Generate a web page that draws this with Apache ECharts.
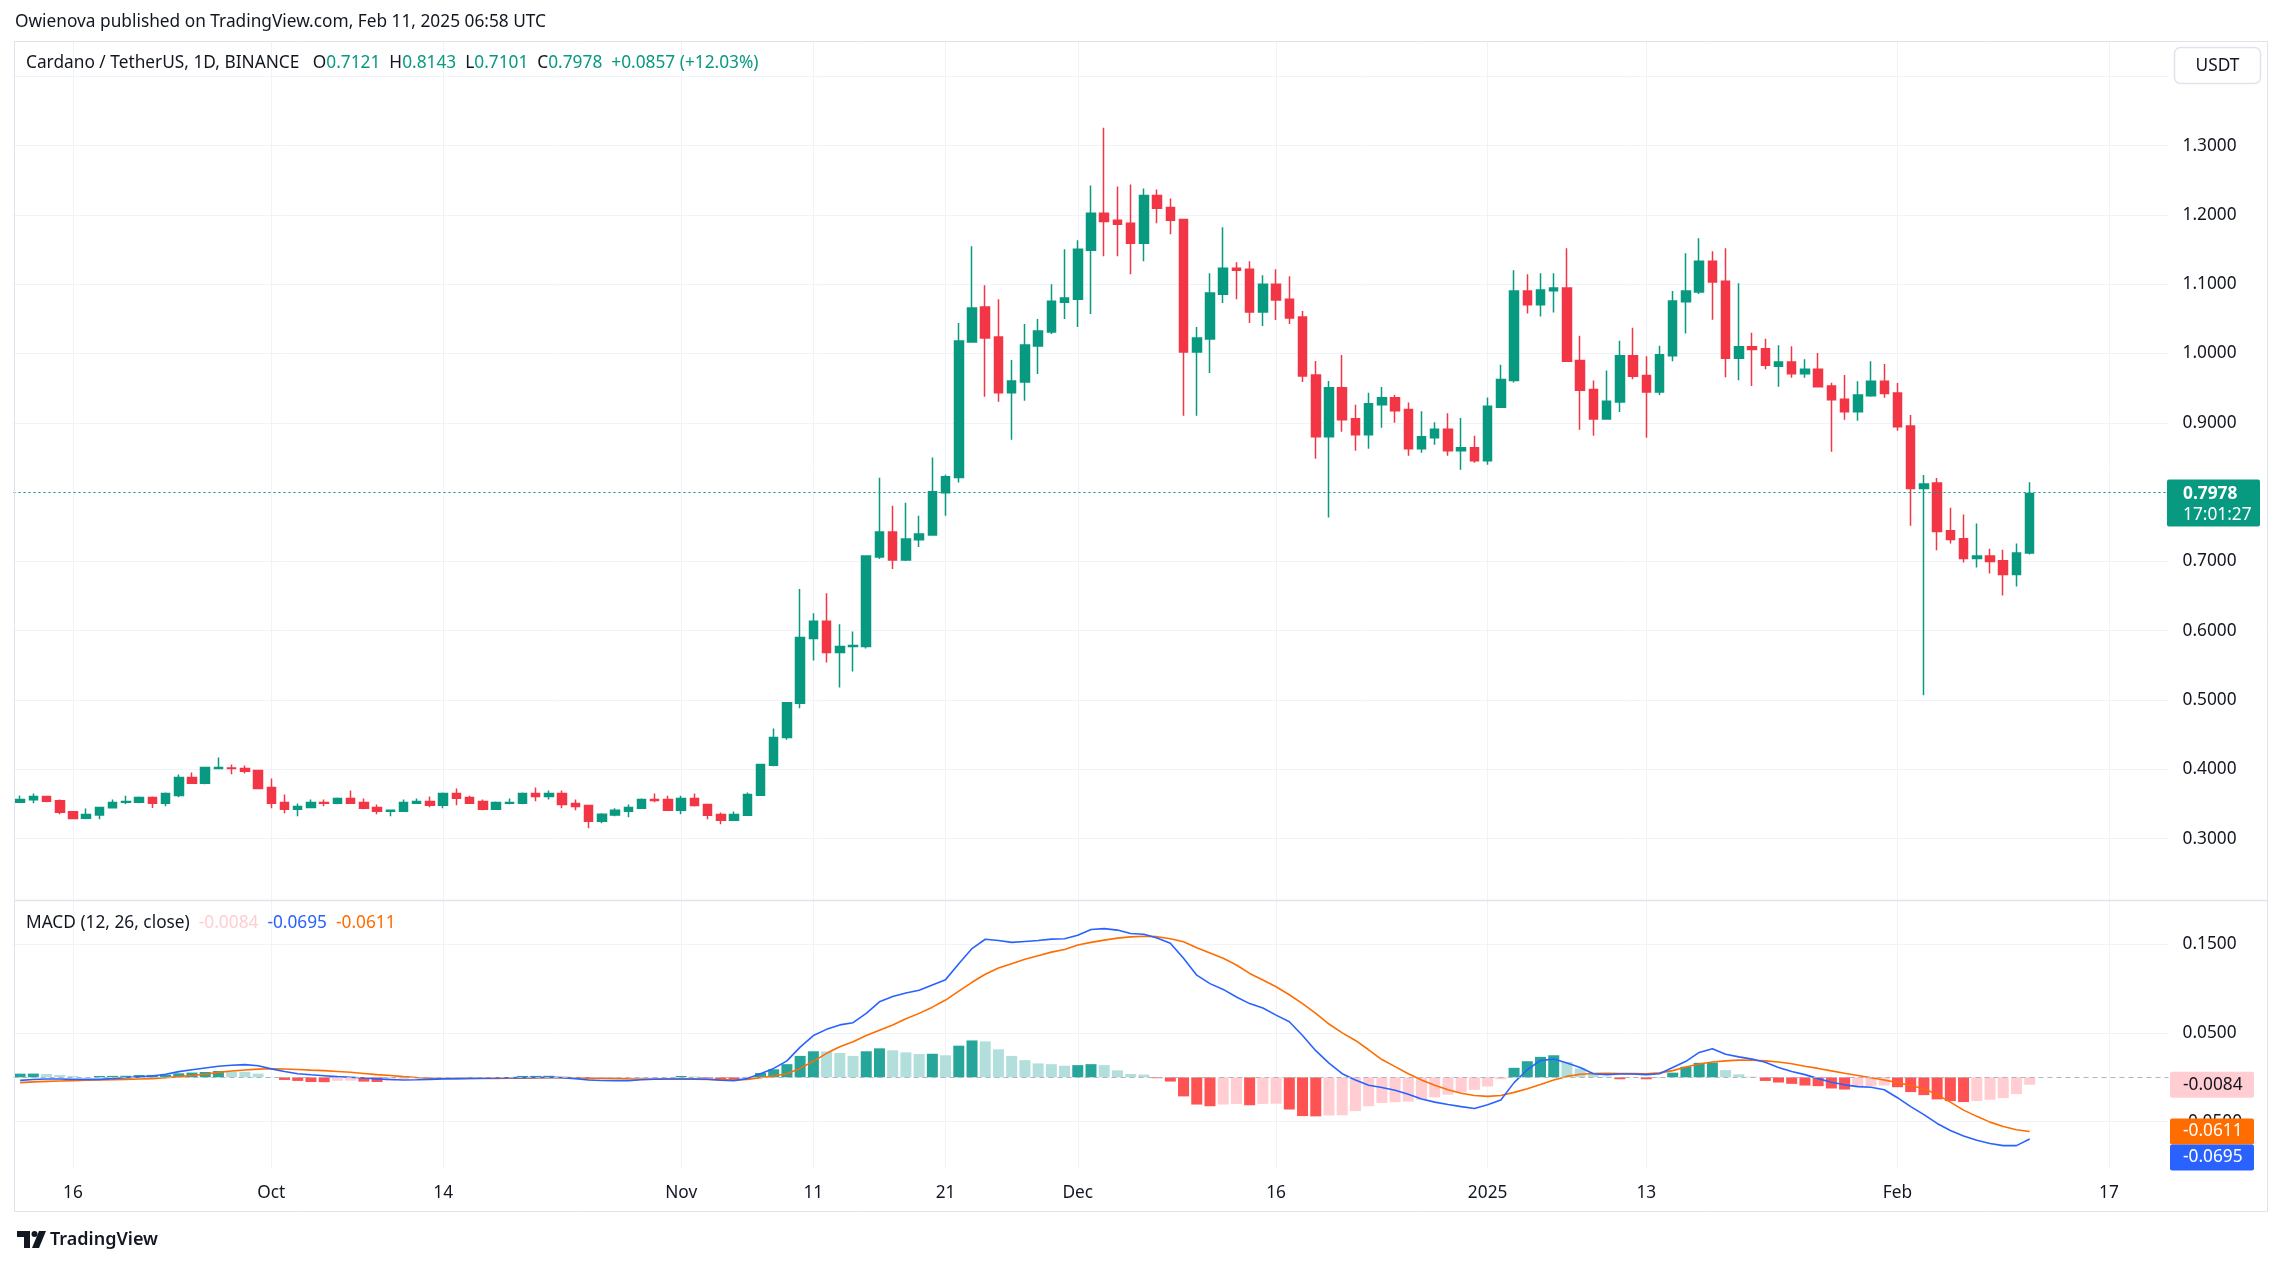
<!DOCTYPE html>
<html><head><meta charset="utf-8">
<script src="https://cdn.jsdelivr.net/npm/echarts@6.0.0/dist/echarts.min.js"></script>
<style>html,body{margin:0;padding:0;background:#fff;overflow:hidden}#c{width:2283px;height:1265px}</style>
</head><body><div id="c"></div>
<script>
// ---- DATA (ADA/USDT daily, 2024-09-12 .. 2025-02-11) ----
const startDate = '2024-09-12';
const opens = [
0.3525,0.3560,0.3607,0.3545,0.3386,0.3295,0.3340,0.3445,0.3525,0.3525,
0.3593,0.3510,0.3622,0.3880,0.3800,0.4012,0.4020,0.4010,0.3983,
0.3737,0.3520,0.3424,0.3448,0.3520,0.3510,0.3578,0.3520,0.3448,0.3395,
0.3395,0.3510,0.3535,0.3482,0.3650,0.3593,0.3535,0.3424,0.3510,0.3510,
0.3650,0.3607,0.3650,0.3506,0.3477,0.3250,0.3340,0.3395,0.3438,0.3564,0.3564,
0.3410,0.3578,0.3492,0.3347,0.3265,0.3337,0.3626,0.4060,0.4459,0.4952,
0.5889,0.6135,0.5686,0.5773,0.5773,0.7063,0.7425,0.7020,0.7314,0.7380,
0.7990,0.8209,1.0166,1.0669,1.0237,0.9432,0.9590,1.0108,1.0310,1.0740,
1.0784,1.1490,1.2022,1.1921,1.1878,1.1590,1.2281,1.2108,1.1935,1.0022,
1.0209,1.0856,1.1230,1.1216,1.0597,1.1000,1.0784,1.0525,0.9690,0.8799,
0.9504,0.9058,0.8827,0.9259,0.9360,0.9190,0.8625,0.8783,0.8907,0.8597,0.8640,
0.8453,0.9223,0.9610,1.0900,1.0705,1.0905,1.0944,0.9897,0.9480,0.9055,
0.9299,0.9968,0.9682,0.9443,0.9968,1.0747,1.0886,1.1331,1.1044,0.9930,
1.0097,1.0069,0.9817,0.9877,0.9708,0.9773,0.9530,0.9341,0.9158,0.9391,0.9599,
0.9431,0.8954,0.8052,0.8131,0.7442,0.7327,0.7040,0.7079,0.7010,0.6811,0.7121];
const highs = [
0.3622,0.3650,0.3620,0.3564,0.3390,0.3434,0.3455,0.3564,0.3620,0.3607,
0.3607,0.3665,0.3925,0.3954,0.4036,0.4170,0.4070,0.4055,0.3983,
0.3867,0.3636,0.3506,0.3564,0.3564,0.3593,0.3694,0.3578,0.3492,0.3410,
0.3564,0.3578,0.3607,0.3665,0.3723,0.3620,0.3564,0.3535,0.3578,0.3665,
0.3737,0.3694,0.3694,0.3564,0.3477,0.3366,0.3438,0.3492,0.3578,0.3650,0.3620,
0.3620,0.3650,0.3492,0.3376,0.3390,0.3665,0.4069,0.4589,0.4970,0.6600,
0.6251,0.6540,0.6092,0.5990,0.7080,0.8208,0.7802,0.7845,0.7657,0.8498,
0.8251,1.0439,1.1547,1.0986,1.0784,0.9906,1.0424,1.0496,1.1000,1.1504,
1.1633,1.2424,1.3259,1.2410,1.2439,1.2381,1.2367,1.2237,1.1935,1.0381,
1.1158,1.1820,1.1317,1.1331,1.1130,1.1216,1.1115,1.0612,0.9892,0.9604,
0.9978,0.9259,0.9432,0.9518,0.9403,0.9294,0.9165,0.9008,0.9137,0.9070,0.8812,
0.9366,0.9839,1.1202,1.1144,1.1159,1.1159,1.1517,1.0255,0.9610,0.9753,
1.0184,1.0370,0.9959,1.0112,1.0900,1.1445,1.1661,1.1474,1.1517,1.1015,
1.0298,1.0212,1.0120,1.0105,0.9917,1.0006,0.9579,0.9688,0.9599,0.9887,0.9847,
0.9574,0.9113,0.8245,0.8205,0.7774,0.7675,0.7546,0.7183,0.7169,0.7258,0.8143];
const lows = [
0.3520,0.3510,0.3525,0.3350,0.3280,0.3280,0.3280,0.3440,0.3496,0.3510,
0.3440,0.3467,0.3598,0.3800,0.3785,0.4002,0.3930,0.3940,0.3713,
0.3438,0.3366,0.3323,0.3438,0.3467,0.3496,0.3510,0.3424,0.3352,0.3323,
0.3395,0.3510,0.3453,0.3438,0.3482,0.3510,0.3410,0.3424,0.3496,0.3496,
0.3540,0.3564,0.3438,0.3410,0.3150,0.3222,0.3323,0.3309,0.3438,0.3525,0.3410,
0.3352,0.3463,0.3280,0.3208,0.3265,0.3337,0.3626,0.4045,0.4425,0.4880,
0.5570,0.5540,0.5179,0.5410,0.5744,0.7034,0.6889,0.7005,0.7208,0.7380,
0.7657,0.8137,1.0166,0.9374,0.9302,0.8755,0.9317,0.9705,1.0280,1.0496,
1.0381,1.0568,1.1403,1.1403,1.1144,1.1331,1.1878,1.1720,0.9101,0.9101,
0.9720,1.0727,1.0784,1.0439,1.0396,1.0482,1.0424,0.9590,0.8482,0.7633,
0.8871,0.8597,0.8626,0.8928,0.9000,0.8525,0.8568,0.8683,0.8525,0.8324,0.8424,
0.8396,0.9223,0.9581,1.0576,1.0533,1.0590,0.9887,0.8898,0.8812,0.9055,
0.9156,0.9629,0.8783,0.9400,0.9887,1.0289,1.0857,1.0485,0.9658,0.9615,
0.9529,0.9772,0.9520,0.9649,0.9649,0.9520,0.8582,0.9044,0.9029,0.9376,0.9361,
0.8885,0.7516,0.5070,0.7159,0.7258,0.6985,0.6911,0.6826,0.6509,0.6638,0.7101];
const closes = [
0.3564,0.3607,0.3540,0.3380,0.3290,0.3347,0.3450,0.3520,0.3535,0.3593,
0.3510,0.3650,0.3880,0.3800,0.4026,0.4026,0.4010,0.3973,0.3723,
0.3510,0.3424,0.3463,0.3520,0.3510,0.3578,0.3510,0.3438,0.3395,0.3410,
0.3520,0.3535,0.3482,0.3650,0.3583,0.3510,0.3424,0.3520,0.3520,0.3650,
0.3607,0.3650,0.3492,0.3463,0.3250,0.3352,0.3410,0.3448,0.3564,0.3550,0.3410,
0.3578,0.3477,0.3337,0.3265,0.3347,0.3636,0.4069,0.4459,0.4961,0.5903,
0.6135,0.5686,0.5773,0.5787,0.7077,0.7425,0.7020,0.7324,0.7396,0.8005,
0.8222,1.0180,1.0655,1.0223,0.9432,0.9604,1.0122,1.0324,1.0755,1.0799,
1.1504,1.2022,1.1906,1.1863,1.1590,1.2281,1.2094,1.1921,1.0022,1.0223,
1.0871,1.1230,1.1201,1.0597,1.1000,1.0770,1.0511,0.9676,0.8799,0.9504,
0.9043,0.8827,0.9273,0.9360,0.9173,0.8625,0.8797,0.8907,0.8597,0.8640,0.8453,
0.9237,0.9624,1.0900,1.0705,1.0915,1.0944,0.9887,0.9471,0.9055,0.9309,
0.9968,0.9672,0.9443,0.9983,1.0757,1.0900,1.1331,1.1030,0.9930,1.0097,
1.0059,0.9830,0.9877,0.9708,0.9773,0.9520,0.9331,0.9158,0.9401,0.9599,0.9421,
0.8944,0.8052,0.8116,0.7432,0.7317,0.7040,0.7079,0.7000,0.6811,0.7121,0.7978];
const macdLine = [
-0.0035,-0.0025,-0.0019,-0.0020,-0.0023,-0.0023,-0.0023,-0.0015,-0.0005,0.0005,
0.0015,0.0035,0.0064,0.0085,0.0105,0.0125,0.0135,0.0143,0.0130,
0.0095,0.0065,0.0040,0.0028,0.0018,0.0008,0.0000,-0.0008,-0.0018,-0.0025,
-0.0030,-0.0028,-0.0023,-0.0018,-0.0015,-0.0012,-0.0010,-0.0008,-0.0006,-0.0004,
-0.0002,0.0000,-0.0005,-0.0015,-0.0030,-0.0036,-0.0038,-0.0038,-0.0028,-0.0022,-0.0019,
-0.0019,-0.0019,-0.0022,-0.0033,-0.0038,-0.0015,0.0040,0.0100,0.0185,0.0340,
0.0470,0.0540,0.0590,0.0615,0.0720,0.0850,0.0910,0.0950,0.0980,0.1040,
0.1100,0.1280,0.1450,0.1555,0.1540,0.1520,0.1530,0.1540,0.1556,0.1560,
0.1600,0.1665,0.1675,0.1658,0.1620,0.1612,0.1570,0.1510,0.1340,0.1150,
0.1055,0.0990,0.0905,0.0830,0.0780,0.0700,0.0625,0.0470,0.0300,0.0160,
0.0040,-0.0030,-0.0090,-0.0115,-0.0145,-0.0190,-0.0245,-0.0280,-0.0307,-0.0330,-0.0352,
-0.0310,-0.0255,-0.0060,0.0085,0.0190,0.0205,0.0160,0.0110,0.0040,0.0030,
0.0037,0.0037,0.0030,0.0040,0.0110,0.0180,0.0280,0.0322,0.0260,0.0230,
0.0205,0.0170,0.0110,0.0065,0.0030,-0.0015,-0.0055,-0.0085,-0.0105,-0.0112,-0.0140,
-0.0230,-0.0330,-0.0420,-0.0520,-0.0600,-0.0660,-0.0710,-0.0745,-0.0770,-0.0770,-0.0695];
const signalLine = [
-0.0060,-0.0052,-0.0046,-0.0041,-0.0037,-0.0034,-0.0030,-0.0027,-0.0023,-0.0019,
-0.0015,-0.0005,0.0008,0.0020,0.0035,0.0055,0.0070,0.0082,0.0092,
0.0097,0.0094,0.0088,0.0081,0.0075,0.0066,0.0056,0.0043,0.0030,0.0020,
0.0008,-0.0002,-0.0010,-0.0014,-0.0015,-0.0014,-0.0013,-0.0012,-0.0011,-0.0009,
-0.0007,-0.0004,-0.0004,-0.0006,-0.0009,-0.0011,-0.0014,-0.0017,-0.0019,-0.0019,-0.0019,
-0.0020,-0.0021,-0.0023,-0.0026,-0.0030,-0.0023,-0.0004,0.0015,0.0040,0.0100,
0.0180,0.0270,0.0345,0.0400,0.0470,0.0530,0.0590,0.0660,0.0720,0.0790,
0.0870,0.0970,0.1070,0.1160,0.1230,0.1280,0.1330,0.1370,0.1410,0.1440,
0.1490,0.1520,0.1545,0.1568,0.1582,0.1589,0.1584,0.1560,0.1526,0.1460,
0.1400,0.1340,0.1265,0.1170,0.1095,0.1020,0.0930,0.0830,0.0720,0.0600,
0.0500,0.0415,0.0310,0.0200,0.0120,0.0040,-0.0030,-0.0090,-0.0141,-0.0180,-0.0205,
-0.0215,-0.0205,-0.0170,-0.0130,-0.0080,-0.0030,0.0010,0.0035,0.0042,0.0044,
0.0043,0.0041,0.0038,0.0050,0.0075,0.0115,0.0150,0.0172,0.0185,0.0193,
0.0192,0.0185,0.0172,0.0152,0.0125,0.0100,0.0072,0.0045,0.0020,-0.0005,-0.0030,
-0.0060,-0.0093,-0.0130,-0.0195,-0.0280,-0.0370,-0.0440,-0.0505,-0.0555,-0.0590,-0.0611];
const histogram = [
0.0041,0.0042,0.0038,0.0026,0.0015,0.0004,0.0015,0.0016,0.0017,0.0026,
0.0027,0.0030,0.0045,0.0053,0.0060,0.0071,0.0064,0.0062,0.0041,
0.0004,-0.0030,-0.0041,-0.0053,-0.0055,-0.0040,-0.0038,-0.0049,-0.0053,-0.0040,
-0.0019,-0.0011,-0.0008,-0.0004,-0.0002,0.0004,-0.0002,0.0002,0.0001,0.0015,
0.0016,0.0017,0.0008,-0.0008,-0.0023,-0.0020,-0.0016,-0.0012,-0.0008,-0.0005,0.0001,
0.0015,0.0010,-0.0011,-0.0023,-0.0026,0.0004,0.0048,0.0090,0.0148,0.0241,
0.0293,0.0290,0.0274,0.0241,0.0293,0.0326,0.0304,0.0281,0.0262,0.0265,
0.0248,0.0356,0.0415,0.0404,0.0315,0.0241,0.0193,0.0156,0.0148,0.0130,
0.0137,0.0148,0.0137,0.0078,0.0037,0.0030,-0.0010,-0.0048,-0.0215,-0.0307,
-0.0326,-0.0307,-0.0300,-0.0315,-0.0300,-0.0298,-0.0363,-0.0437,-0.0440,-0.0430,
-0.0428,-0.0381,-0.0326,-0.0289,-0.0281,-0.0274,-0.0252,-0.0226,-0.0196,-0.0170,-0.0141,
-0.0104,-0.0022,0.0107,0.0181,0.0230,0.0248,0.0174,0.0100,0.0044,0.0007,
-0.0022,-0.0004,-0.0022,0.0003,0.0052,0.0119,0.0163,0.0165,0.0081,0.0033,
0.0007,-0.0041,-0.0059,-0.0074,-0.0093,-0.0100,-0.0126,-0.0138,-0.0108,-0.0100,-0.0093,
-0.0112,-0.0167,-0.0201,-0.0249,-0.0268,-0.0279,-0.0268,-0.0253,-0.0234,-0.0190,-0.0084];
const tickIndex = [4, 19, 32, 50, 60, 70, 80, 95, 111, 123, 142, 158];
const tickText  = ['16', 'Oct', '14', 'Nov', '11', '21', 'Dec', '16', '2025', '13', 'Feb', '17'];
const priceLabels = [0.3, 0.4, 0.5, 0.6, 0.7, 0.8, 0.9, 1.0, 1.1, 1.2, 1.3];
const priceGridValues = [0.3, 0.4, 0.5, 0.6, 0.7, 0.8, 0.9, 1.0, 1.1, 1.2, 1.3, 1.4];
const macdLabels = [-0.05, 0.05, 0.15];
const lastChange = '+0.0857 (+12.03%)';
const countdown = '17:01:27';

// ---- STYLE ----
const FONT = "'Noto Sans', 'Liberation Sans', sans-serif";
const FS = '17.3px ';
const UP = '#089981', DOWN = '#F23645', TXT = '#131722', GRID = '#F0F3FA', BORDER = '#E0E3EB';
const SLOTS = 163; // 153 bars plus the empty space on the right

const chart = echarts.init(document.getElementById('c'), null, {renderer: 'canvas', width: 2283, height: 1265});

const n = closes.length;
const candleData = [], histData = [], macdData = [], sigData = [];
for (let i = 0; i < n; i++) {
  candleData.push([i, opens[i], closes[i], lows[i], highs[i]]);
  const h = histogram[i], p = i > 0 ? histogram[i - 1] : 0;
  const col = h >= 0 ? (h > p ? '#26A69A' : '#B2DFDB') : (h < p ? '#FF5252' : '#FFCDD2');
  histData.push({value: [i, h], itemStyle: {color: col}});
  macdData.push([i, macdLine[i]]);
  sigData.push([i, signalLine[i]]);
}

const gridL = 13.5, gridW = 2155;
const xAxisCommon = {type: 'value', min: -0.5, max: SLOTS - 0.5, axisLine: {show: false},
  axisTick: {show: false, customValues: tickIndex},
  splitLine: {show: true, lineStyle: {color: GRID, width: 1}}};

chart.setOption({
  animation: false,
  backgroundColor: '#ffffff',
  textStyle: {fontFamily: FONT},
  grid: [
    {left: gridL, top: 41, width: gridW, height: 859, outerBoundsMode: 'none', containLabel: false},
    {left: gridL, top: 900, width: gridW, height: 269, outerBoundsMode: 'none', containLabel: false}
  ],
  xAxis: [
    Object.assign({gridIndex: 0, axisLabel: {show: false, customValues: tickIndex}}, xAxisCommon),
    Object.assign({gridIndex: 1, axisLabel: {show: true, customValues: tickIndex, color: TXT, fontSize: 17.3, fontFamily: FONT, margin: 16,
      formatter: v => tickText[tickIndex.indexOf(Math.round(v))] || ''}}, xAxisCommon)
  ],
  yAxis: [
    {type: 'value', gridIndex: 0, position: 'right', min: 0.2114, max: 1.4509, scale: true,
      axisLine: {show: false}, axisTick: {show: false, customValues: priceGridValues},
      axisLabel: {customValues: priceLabels, formatter: v => v.toFixed(4), color: TXT, fontSize: 17.3, fontFamily: FONT, margin: 14, align: 'left'},
      splitLine: {show: true, lineStyle: {color: GRID, width: 1}}},
    {type: 'value', gridIndex: 1, position: 'right', min: -0.1033, max: 0.1997, scale: true,
      axisLine: {show: false}, axisTick: {show: false, customValues: macdLabels},
      axisLabel: {customValues: macdLabels, formatter: v => v.toFixed(4), color: TXT, fontSize: 17.3, fontFamily: FONT, margin: 14, align: 'left'},
      splitLine: {show: true, lineStyle: {color: GRID, width: 1}}}
  ],
  series: [
    {type: 'candlestick', name: 'ADAUSDT', xAxisIndex: 0, yAxisIndex: 0, data: candleData,
      encode: {x: 0, y: [1, 2, 3, 4]}, barWidth: 9,
      itemStyle: {color: UP, color0: DOWN, borderColor: UP, borderColor0: DOWN, borderWidth: 1.5},
      markLine: {silent: true, symbol: ['none', 'none'], label: {show: false},
        lineStyle: {color: UP, type: [2, 3], width: 1.2}, data: [{yAxis: closes[n - 1]}]}},
    {type: 'bar', name: 'Histogram', xAxisIndex: 1, yAxisIndex: 1, data: histData, barWidth: 11,
      markLine: {silent: true, symbol: ['none', 'none'], label: {show: false},
        lineStyle: {color: '#B2B5BE', type: [5, 4], width: 1}, data: [{yAxis: 0}]}},
    {type: 'line', name: 'MACD', xAxisIndex: 1, yAxisIndex: 1, data: macdData, showSymbol: false, symbol: 'none',
      lineStyle: {color: '#2962FF', width: 1.6}, z: 4},
    {type: 'line', name: 'Signal', xAxisIndex: 1, yAxisIndex: 1, data: sigData, showSymbol: false, symbol: 'none',
      lineStyle: {color: '#FF6D00', width: 1.6}, z: 3}
  ]
});

// ---- overlay: frame, legends, axis value boxes (positions from the chart's own scales) ----
const yPrice = chart.convertToPixel({xAxisIndex: 0, yAxisIndex: 0}, [0, closes[n - 1]])[1];
const yHist = chart.convertToPixel({xAxisIndex: 1, yAxisIndex: 1}, [0, histogram[n - 1]])[1];
const ySig = chart.convertToPixel({xAxisIndex: 1, yAxisIndex: 1}, [0, signalLine[n - 1]])[1];
const boxH = 26;
const sigTop = ySig - boxH / 2;
const macdTop = sigTop + boxH; // stacked below the signal box, as in the picture

function valBox(top, fill, txtColor, text) {
  return [
    {type: 'rect', shape: {x: 2170, y: top, width: 84, height: boxH, r: 2}, style: {fill: fill}, z: 100},
    {type: 'text', x: 2183, y: top + boxH / 2, style: {text: text, fill: txtColor, font: FS + FONT, verticalAlign: 'middle'}, z: 101}
  ];
}
const fmt = v => v.toFixed(4);

const elements = [
  {type: 'rect', shape: {x: 14.5, y: 41.5, width: 2253, height: 1170}, style: {fill: 'none', stroke: BORDER, lineWidth: 1}, z: 90},
  {type: 'line', shape: {x1: 14.5, y1: 900.5, x2: 2267.5, y2: 900.5}, style: {stroke: BORDER, lineWidth: 1.5}, z: 90},
  {type: 'text', x: 15, y: 22, style: {text: 'Owienova published on TradingView.com, Feb 11, 2025 06:58 UTC', fill: TXT, font: FS + FONT, verticalAlign: 'middle'}, z: 100},
  {type: 'text', x: 26, y: 63, z: 100, style: {
    text: '{t|Cardano / TetherUS, 1D, BINANCE}   {k|O}{v|' + fmt(opens[n - 1]) + '}  {k|H}{v|' + fmt(highs[n - 1]) + '}  {k|L}{v|' + fmt(lows[n - 1]) + '}  {k|C}{v|' + fmt(closes[n - 1]) + '}  {v|' + lastChange + '}',
    font: FS + FONT, verticalAlign: 'middle',
    rich: {t: {fill: TXT, font: FS + FONT}, k: {fill: TXT, font: FS + FONT}, v: {fill: UP, font: FS + FONT}}}},
  {type: 'text', x: 26, y: 923, z: 100, style: {
    text: '{t|MACD (12, 26, close)}  {h|' + fmt(histogram[n - 1]) + '}  {m|' + fmt(macdLine[n - 1]) + '}  {s|' + fmt(signalLine[n - 1]) + '}',
    font: FS + FONT, verticalAlign: 'middle',
    rich: {t: {fill: TXT, font: FS + FONT}, h: {fill: '#FFCDD2', font: FS + FONT}, m: {fill: '#2962FF', font: FS + FONT}, s: {fill: '#FF6D00', font: FS + FONT}}}},
  // USDT badge
  {type: 'rect', shape: {x: 2174.5, y: 47.5, width: 86, height: 36, r: 6}, style: {fill: '#fff', stroke: BORDER, lineWidth: 1.5}, z: 100},
  {type: 'text', x: 2217.5, y: 66, style: {text: 'USDT', fill: TXT, font: FS + FONT, align: 'center', verticalAlign: 'middle'}, z: 101},
  // last price badge
  {type: 'rect', shape: {x: 2167, y: yPrice - 14, width: 93, height: 47, r: 2}, style: {fill: UP}, z: 100},
  {type: 'text', x: 2183, y: yPrice, style: {text: fmt(closes[n - 1]), fill: '#fff', font: 'bold ' + FS + FONT, verticalAlign: 'middle'}, z: 101},
  {type: 'text', x: 2183, y: yPrice + 21, style: {text: countdown, fill: '#fff', font: FS + FONT, verticalAlign: 'middle'}, z: 101},
  // TradingView logo
  {type: 'polygon', shape: {points: [[17, 1231], [30, 1231], [30, 1248], [24, 1248], [24, 1237], [17, 1237]]}, style: {fill: TXT}, z: 100},
  {type: 'circle', shape: {cx: 34.5, cy: 1234, r: 3}, style: {fill: TXT}, z: 100},
  {type: 'polygon', shape: {points: [[39, 1231], [46, 1231], [39, 1248], [32, 1248]]}, style: {fill: TXT}, z: 100},
  {type: 'text', x: 50, y: 1240, style: {text: 'TradingView', fill: TXT, font: '600 18px ' + FONT, verticalAlign: 'middle'}, z: 100}
].concat(
  valBox(yHist - boxH / 2, '#FFCDD2', TXT, fmt(histogram[n - 1])),
  valBox(sigTop, '#FF6D00', '#fff', fmt(signalLine[n - 1])),
  valBox(macdTop, '#2962FF', '#fff', fmt(macdLine[n - 1]))
);
chart.setOption({graphic: {elements: elements}});
</script>
</body></html>
